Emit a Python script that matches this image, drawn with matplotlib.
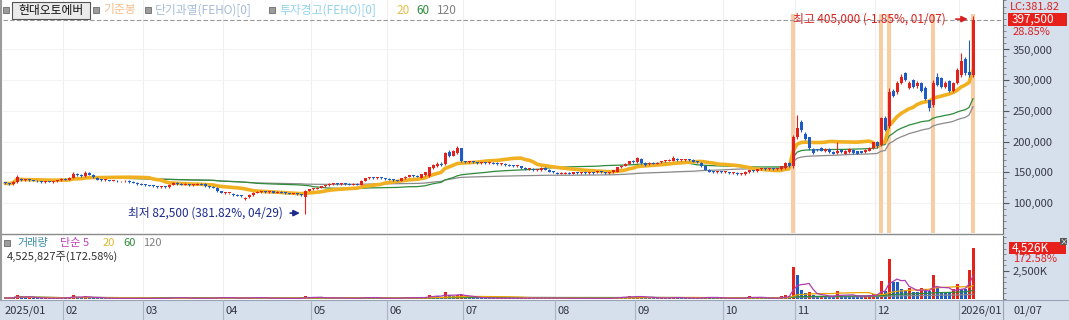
import numpy as np
import pandas as pd
import matplotlib
matplotlib.use('Agg')
import matplotlib.pyplot as plt
from matplotlib.patches import Rectangle
from matplotlib.lines import Line2D
from matplotlib.ticker import FixedLocator, MultipleLocator, FuncFormatter

plt.rcParams['font.family'] = ['Noto Sans CJK KR', 'DejaVu Sans']

# ---------------- data (prices in thousand KRW, volume in thousand shares) ----------------
month_labels = ['2025/01', '02', '03', '04', '05', '06', '07', '08', '09', '10', '11', '12', '2026/01']
days_per_month = [15, 20, 20, 22, 19, 19, 23, 20, 22, 18, 20, 21, 4]

opens = (
    [133,132,131,134,139,137,138,137,136,135,134,135,134,135,137] +
    [139,138,141,148,146,144,149,146,141,138,137,137,136,136,135,135,136,134,133,131] +
    [130,129,128,127,126,127,126,130,133,131,130,130,129,130,131,131,127,126,125,119] +
    [116,116,115,113,112,106,109,113,117,118,119,118,119,117,118,117,116,115,115,114,110,120] +
    [122,123,125,127,129,131,132,131,132,131,130,131,130,136,140,141,140,141,140] +
    [139,138,137,136,140,143,145,144,141,145,144,157,160,164,163,183,177,181,189] +
    [168,166,167,166,165,166,165,165,165,163,164,162,161,160,160,157,155,156,153,153,157,154,151] +
    [149,148,148,149,148,150,149,150,149,150,150,151,150,149,150,151,158,161,164,168] +
    [166,172,165,163,165,164,166,168,169,169,172,170,170,171,170,167,165,160,154,151,150,151] +
    [150,150,149,149,147,147,150,153,152,155,156,155,156,155,155,157,165,160] +
    [207,232,213,207,188,187,190,184,188,183,181,187,180,183,187,184,184,183,185,189] +
    [200,195,238,225,283,280,295,311,288,300,290,295,288,267,259,305,303,289,298,283,295] +
    [308,335,313,308.5]
)
closes = (
    [132,131,134,143,137,137.5,137,136,135,134,135,134.5,135,137,139] +
    [138,141,148,146,144,149,146,142,138,137,137.5,136,136.5,135,135,136,134,133,131,130] +
    [129,128,127.5,126,127,126,130,133,131,130,130.5,129,130,131,130,127,126,125,119,117] +
    [117,116,113,112,111,108,113,117,118,119,118,119,117,118,117,116,115,115.5,114,113,120,122] +
    [123,125,127,129,131,132,131,132,131,130,131,130,136,140,141,140,141,140,139] +
    [138,137,136,140,143,145,144,143,147,150,158,162,164,162,181,176,185,189,168] +
    [166,167,166,165,166,165,165.5,164,163,164,162,161,160,161,157,155,156,153,154,157,154,151,150] +
    [148,148.5,149,148,150,149,150,149,150,149.5,151,150,149,150,153,158,161,164,168,166] +
    [173,165,162,165,164,165,168,169,170,173,170,170.5,171,170,167,166,160,154,151,150,151,150] +
    [150.5,149,150,147,148,151,153,152,155,156,155,156,155.5,156,160,165,160,207] +
    [222,219,205,189,181,186,185,188,183,180,185,183,185,188,181,180,182,187,190,199] +
    [192,238,219,280,275,296,305,300,296,289,296,283,270,254,296,292,289,296,283,295,316] +
    [332,311,308.5,397.5]
)
highs = (
    [134,133,135,146,140,139,139,138,137,136,136,136,136,138,140] +
    [140,142,150,149,147,152,150,147,142,139,139,138,138,137,136,137,137,135,134,132] +
    [131,130,129,128,128,128,131,134,134,132,132,131,131,132,132,132,128,127,126,120] +
    [118,117,116,114,113,109,114,118,119,120,120,120,120,119,119,118,117,116,116,115,121,123] +
    [124,126,128,130,132,133,133,133,133,132,132,132,137,141,142,142,142,142,141] +
    [140,139,138,141,144,146,146,145,148,151,159,164,166,166,183,186,187,192,190] +
    [169,168,168,167,167,167,166,166,166,165,165,163,162,162,161,158,157,157,155,158,158,155,152] +
    [150,150,150,150,151,151,151,151,151,151,152,152,151,151,154,159,162,165,169,170] +
    [175,174,166,166,166,166,169,170,171,176,174,172,172,172,171,168,166,161,155,152,152,152] +
    [152,151,151,150,149,152,154,154,156,157,157,157,157,157,161,166,166,210] +
    [243,235,215,208,190,188,191,189,189,184,199,188,186,189,188,185,185,188,191,200] +
    [201,240,242,287,285,298,310,313,298,302,298,297,290,268,300,312,305,298,300,297,320] +
    [345,337,365,405]
)
lows = (
    [131,130,130,133,136,136,136,135,134,133,133,134,133,134,136] +
    [137,137,140,144,143,143,145,141,137,136,136,135,135,134,134,134,133,132,130,129] +
    [128,127,126,125,125,125,125,129,130,129,129,128,128,129,129,126,125,124,118,116] +
    [115,114,112,111,110,105,108,112,116,117,117,117,116,116,116,115,114,114,113,112,82.5,119] +
    [121,122,124,126,128,130,130,130,130,129,129,129,129,135,139,139,139,139,138] +
    [137,136,135,135,139,142,143,142,140,144,143,156,159,160,162,175,176,180,167] +
    [165,165,165,164,164,164,164,163,162,162,161,160,159,159,156,154,153,152,152,152,153,150,149] +
    [147,147,147,147,147,148,148,148,148,148,149,149,148,148,149,150,157,160,163,165] +
    [165,164,161,162,163,163,165,167,168,168,169,169,169,169,166,165,159,153,150,149,149,149] +
    [149,148,148,146,146,146,149,151,151,154,154,154,154,154,154,156,159,157] +
    [205,215,203,187,180,185,184,183,182,179,180,182,179,182,180,179,181,182,184,188] +
    [190,193,217,222,273,278,293,298,286,287,288,281,268,250,257,290,287,287,281,281,293] +
    [306,309,306,305]
)
volumes = (
    [90,80,150,400,150,100,160,90,80,70,80,70,60,120,140] +
    [90,130,350,150,110,250,130,100,90,70,60,60,60,60,50,60,60,70,60,70] +
    [60,60,50,60,50,60,150,180,100,70,60,60,60,70,60,90,70,60,200,150] +
    [100,80,70,70,80,120,150,160,90,80,70,60,60,60,60,50,50,50,60,60,300,150] +
    [120,110,100,100,110,90,70,60,60,60,60,60,200,180,100,80,70,70,60] +
    [60,60,60,150,150,120,80,70,180,200,350,300,250,180,600,350,300,350,400] +
    [200,150,120,100,90,80,70,70,80,70,80,70,70,70,100,110,80,90,70,120,100,110,90] +
    [70,60,60,60,80,60,60,60,60,50,60,60,60,60,100,200,200,180,250,150] +
    [300,200,120,100,80,80,120,100,90,200,120,80,70,70,90,80,150,200,150,100,80,70] +
    [60,70,60,80,70,150,300,100,120,80,70,70,60,70,250,320,250,2900] +
    [2150,800,500,600,350,250,300,250,200,200,700,300,300,300,250,250,250,300,350,450] +
    [400,1600,700,3600,1500,1500,900,800,1000,600,600,1000,700,700,2100,1100,600,600,600,900,1300] +
    [900,900,2622,4526]
)
signal_days = [197, 219, 221, 232, 242]     # 기준봉 markers
price_ticks = [100, 150, 200, 250, 300, 350]
last_price = 397.5
low_price, low_idx = 82.5, 75
high_price, high_idx = 405.0, 242

# ---------------- derived ----------------
o = np.array(opens, float); c = np.array(closes, float)
h = np.array(highs, float); l = np.array(lows, float)
v = np.array(volumes, float)
n = len(c)
idx = np.arange(n)
cs = pd.Series(c); vs = pd.Series(v)
def vwma(p):
    return ((cs * vs).rolling(p, min_periods=1).sum() / vs.rolling(p, min_periods=1).sum()).values
ma20, ma60, ma120 = vwma(20), vwma(60), vwma(120)
vma = {p: vs.rolling(p, min_periods=1).mean().values for p in (5, 20, 60, 120)}
month_start = np.concatenate([[0], np.cumsum(days_per_month)[:-1]])

RED = '#e3231b'; BLUE = '#1d5cc6'
W, H = 1069, 320
fig = plt.figure(figsize=(W / 100, H / 100), dpi=100)
fig.patch.set_facecolor('white')

def R(x0, y0, x1, y1, z=-5, **kw):
    fig.add_artist(Rectangle((x0 / W, 1 - y1 / H), (x1 - x0) / W, (y1 - y0) / H,
                             transform=fig.transFigure, zorder=z, **kw))
def T(x, y, s, **kw):
    kw.setdefault('va', 'center')
    fig.text(x / W, 1 - y / H, s, **kw)
def L(x0, y0, x1, y1, z=5, **kw):
    fig.add_artist(Line2D([x0 / W, x1 / W], [1 - y0 / H, 1 - y1 / H],
                          transform=fig.transFigure, zorder=z, **kw))

AXBG = '#d6e0ed'
R(1003, 0, 1069, 300, fc=AXBG, ec='none')
R(0, 300, 1069, 320, fc=AXBG, ec='none')

# ---------------- price panel ----------------
ax = fig.add_axes([3 / W, 1 - 233 / H, 1000 / W, 233 / H])
ax.set_xlim(-0.5, 249.5)
ax.set_ylim(51.1, 430.6)
for s in ('top', 'left', 'bottom'):
    ax.spines[s].set_visible(False)
ax.spines['right'].set_color('#6a6a6a'); ax.spines['right'].set_linewidth(0.8)
ax.set_xticks([])
ax.yaxis.tick_right()
ax.yaxis.set_major_locator(FixedLocator(price_ticks))
ax.yaxis.set_minor_locator(MultipleLocator(10))
ax.yaxis.set_major_formatter(FuncFormatter(lambda val, p: f'{val * 1000:,.0f}'))
ax.tick_params(axis='y', which='major', length=4, width=0.8, colors='#555', labelsize=8,
               labelcolor='#3a3a48', pad=3)
ax.tick_params(axis='y', which='minor', length=2, width=0.6, colors='#777')

for b in month_start[1:]:
    ax.axvline(b - 0.5, color='#efefef', lw=0.8, zorder=0)
for t in price_ticks:
    ax.axhline(t, color='#f3f3f3', lw=0.8, zorder=0)

ax.bar(signal_days, 408 - 51.1, bottom=51.1, width=0.85, color='#f9cda3', zorder=1)
ax.axhline(last_price, color='#9a9a9a', lw=0.8, ls=(0, (4, 2)), zorder=1.5)

ax.plot(idx, ma120, color='#8a8a8a', lw=0.9, zorder=2)
ax.plot(idx, ma60, color='#2e8b3a', lw=0.9, zorder=2)
ax.plot(idx, ma20, color='#f0b020', lw=2.6, zorder=2.2, solid_capstyle='round')

up = c >= o
col = np.where(up, RED, BLUE)
ax.vlines(idx, l, h, colors=col, lw=0.8, zorder=3)
body_lo = np.minimum(o, c)
body_h = np.maximum(np.abs(c - o), 1.6)
ax.bar(idx, body_h, bottom=body_lo, width=0.75, color=col, linewidth=0, zorder=3.5)

# annotations
ax.text(high_idx - 45, high_price - 5.5, f'최고 {high_price * 1000:,.0f} (-1.85%, 01/07)',
        color='#d82020', fontsize=8.5, va='center', ha='left', zorder=6)
ax.annotate('', xy=(high_idx - 0.6, high_price - 5.5), xytext=(high_idx - 5, high_price - 5.5),
            arrowprops=dict(arrowstyle='-|>', color='#d82020', lw=1.2, mutation_scale=9), zorder=6)
ax.text(low_idx - 5.6, low_price + 1, f'최저 {low_price * 1000:,.0f} (381.82%, 04/29)',
        color='#1b2a8e', fontsize=8.5, va='center', ha='right', zorder=6)
ax.annotate('', xy=(low_idx - 0.6, low_price + 1), xytext=(low_idx - 4.4, low_price + 1),
            arrowprops=dict(arrowstyle='-|>', color='#1b2a8e', lw=1.2, mutation_scale=9), zorder=6)

# ---------------- volume panel ----------------
axv = fig.add_axes([3 / W, 1 - 299 / H, 1000 / W, 63 / H])
axv.set_xlim(-0.5, 249.5)
axv.set_ylim(0, 5625)
for s in ('top', 'left', 'bottom'):
    axv.spines[s].set_visible(False)
axv.spines['right'].set_color('#6a6a6a'); axv.spines['right'].set_linewidth(0.8)
axv.set_xticks([])
axv.yaxis.tick_right()
axv.yaxis.set_major_locator(FixedLocator([2500]))
axv.yaxis.set_minor_locator(MultipleLocator(500))
axv.yaxis.set_major_formatter(FuncFormatter(lambda val, p: f'{val:,.0f}K'))
axv.tick_params(axis='y', which='major', length=4, width=0.8, colors='#555', labelsize=8,
                labelcolor='#3a3a48', pad=3)
axv.tick_params(axis='y', which='minor', length=2, width=0.6, colors='#777')
for b in month_start[1:]:
    axv.axvline(b - 0.5, color='#efefef', lw=0.8, zorder=0)
vup = np.concatenate([[True], v[1:] > v[:-1]])
axv.bar(idx, v, width=0.75, color=np.where(vup, RED, BLUE), linewidth=0, zorder=2)
axv.plot(idx, vma[120], color='#8a8a8a', lw=0.9, zorder=3)
axv.plot(idx, vma[60], color='#2e8b3a', lw=0.9, zorder=3)
axv.plot(idx, vma[20], color='#e8a400', lw=0.9, zorder=3)
axv.plot(idx, vma[5], color='#b03cb0', lw=0.9, zorder=3)

# ---------------- frame lines ----------------
L(0, 233.5, 1003, 233.5, color='#8a8a8a', lw=1)
L(1, 0, 1, 300, color='#9a9a9a', lw=1.5)
L(0, 300, 1069, 300, color='#98a4b6', lw=0.8)
L(1003, 300, 1003, 320, color='#98a4b6', lw=0.8)

# ---------------- x strip ----------------
for b, lab in zip(month_start, month_labels):
    px = 3 + b * 4
    if b > 0:
        L(px, 300, px, 320, color='#aab5c6', lw=0.8)
    T(px + 2, 310.5, lab, fontsize=8, color='#333340', ha='left')
T(1013, 310.5, '01/07', fontsize=8, color='#333340', ha='left')

# ---------------- legends ----------------
def square(x, y):
    R(x, y - 3, x + 6, y + 3, z=6, fc='#9c9c9c', ec='#6a6a6a', lw=0.6)

square(3, 10)
R(12, 2, 90, 19, z=6, fc='#ebebeb', ec='#555555', lw=0.8)
T(51, 10.5, '현대오토에버', fontsize=8.5, color='#111111', ha='center', zorder=7)
square(93, 10)
T(103, 10, '기준봉', fontsize=8.5, color='#f5bf8e', ha='left')
square(145, 10)
T(155, 10, '단기과열(FEHO)[0]', fontsize=8.5, color='#a6bcd8', ha='left')
square(269, 10)
T(279, 10, '투자경고(FEHO)[0]', fontsize=8.5, color='#92d3ea', ha='left')
T(396, 10, '20', fontsize=8.5, color='#e8be48', ha='left')
T(416, 10, '60', fontsize=8.5, color='#2e8b3a', ha='left')
T(437, 10, '120', fontsize=8.5, color='#808080', ha='left')

square(4, 243)
T(17, 243, '거래량', fontsize=8, color='#3d8ea8', ha='left')
T(60, 243, '단순 5', fontsize=8, color='#c040b8', ha='left')
T(103, 243, '20', fontsize=8, color='#e0b830', ha='left')
T(123, 243, '60', fontsize=8, color='#2e8b3a', ha='left')
T(143, 243, '120', fontsize=8, color='#808080', ha='left')
T(7, 257, '4,525,827주(172.58%)', fontsize=8, color='#303030', ha='left')

# ---------------- right axis badges ----------------
T(1010, 7.5, 'LC:381.82', fontsize=8, color='#d82020', ha='left')
R(1008, 13, 1067, 26, z=6, fc='#e8201c', ec='none')
T(1012, 19.5, f'{last_price * 1000:,.0f}', fontsize=8.5, color='white', ha='left', zorder=7)
T(1013, 32, '28.85%', fontsize=8, color='#d82020', ha='left')
R(1009, 242, 1066, 254, z=6, fc='#e8201c', ec='none')
T(1012, 248, f'{volumes[-1]:,.0f}K', fontsize=8.5, color='white', ha='left', zorder=7)
T(1013, 259, '172.58%', fontsize=8, color='#d82020', ha='left')
R(1060, 238, 1067, 245, z=7, fc='#555555', ec='none')
T(1063.5, 241.5, '×', fontsize=6, color='white', ha='center', zorder=8)

fig.savefig('out.png', dpi=100, facecolor='white')
